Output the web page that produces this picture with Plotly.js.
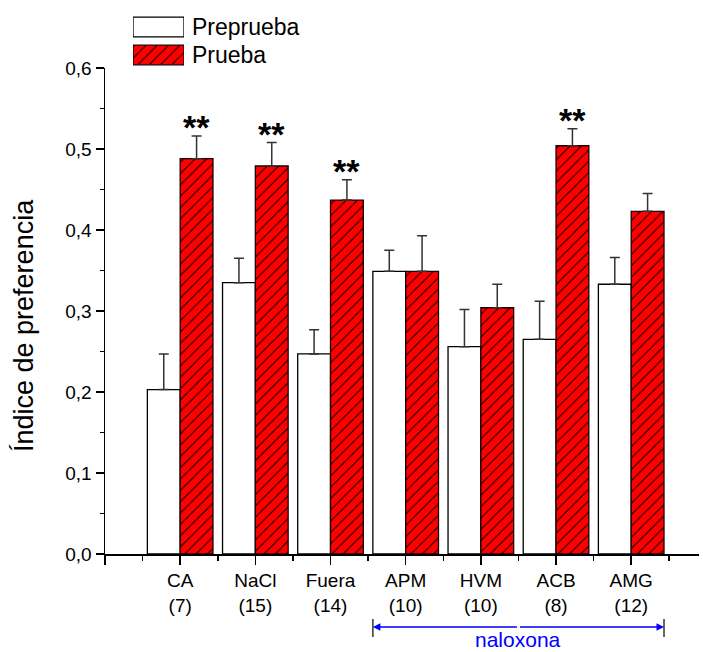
<!DOCTYPE html>
<html>
<head>
<meta charset="utf-8">
<script src="https://cdn.plot.ly/plotly-3.0.1.min.js"></script>
<style>html,body{margin:0;padding:0;background:#fff;}#chart{width:703px;height:652px;}</style>
</head>
<body>
<div id="chart"></div>
<script>
const categories = ['CA', 'NaCl', 'Fuera', 'APM', 'HVM', 'ACB', 'AMG'];
const counts = ['(7)', '(15)', '(14)', '(10)', '(10)', '(8)', '(12)'];
const preprueba = [0.203, 0.335, 0.247, 0.349, 0.256, 0.265, 0.333];
const prepruebaErr = [0.044, 0.030, 0.030, 0.026, 0.046, 0.047, 0.033];
const prueba = [0.488, 0.479, 0.437, 0.349, 0.304, 0.504, 0.423];
const pruebaErr = [0.028, 0.029, 0.025, 0.044, 0.029, 0.021, 0.022];
const signif = ['**', '**', '**', '', '', '**', ''];
const seriesNames = ['Preprueba', 'Prueba'];
const naloxonaGroup = ['APM', 'AMG'];
const yTicks = [0, 0.1, 0.2, 0.3, 0.4, 0.5, 0.6];

const FONT = 'Arial, "Liberation Sans", sans-serif';
const xIdx = categories.map((c, i) => i);
const BARGAP = 0.127;
const halfW = (1 - BARGAP) / 2;

const redPattern = {shape: '/', fgcolor: '#000000', bgcolor: '#ff0000', fillmode: 'replace', size: 8, solidity: 0.12};

const traces = [
  {
    type: 'bar', name: seriesNames[0], x: xIdx, y: preprueba,
    marker: {color: '#ffffff', line: {color: '#000', width: 1.3}},
    error_y: {type: 'data', array: prepruebaErr, arrayminus: preprueba.map(() => 0), symmetric: false,
              color: '#333', thickness: 1.5, width: 5},
    showlegend: false, hoverinfo: 'skip'
  },
  {
    type: 'bar', name: seriesNames[1], x: xIdx, y: prueba,
    marker: {color: '#ff0000', line: {color: '#1a0000', width: 1.3}, pattern: redPattern},
    error_y: {type: 'data', array: pruebaErr, arrayminus: prueba.map(() => 0), symmetric: false,
              color: '#333', thickness: 1.5, width: 5},
    showlegend: false, hoverinfo: 'skip'
  },
  // legend swatches (helper axes)
  {
    type: 'bar', orientation: 'h', x: [1], y: [1.5], base: 0, width: 0.7, offset: -0.35,
    xaxis: 'x2', yaxis: 'y2', name: seriesNames[0],
    marker: {color: '#ffffff', line: {color: '#000', width: 1.3}},
    showlegend: false, hoverinfo: 'skip'
  },
  {
    type: 'bar', orientation: 'h', x: [1], y: [0.5], base: 0, width: 0.7, offset: -0.35,
    xaxis: 'x2', yaxis: 'y2', name: seriesNames[1],
    marker: {color: '#ff0000', line: {color: '#1a0000', width: 1.3}, pattern: redPattern},
    showlegend: false, hoverinfo: 'skip'
  }
];

const annotations = [];
// significance stars
categories.forEach((c, i) => {
  if (signif[i]) {
    annotations.push({
      x: i + halfW / 2, y: prueba[i] + pruebaErr[i], xref: 'x', yref: 'y',
      text: '<b>' + signif[i] + '</b>', showarrow: false, yanchor: 'bottom', xanchor: 'center',
      yshift: -12, font: {family: FONT, size: 34, color: '#000'}
    });
  }
});
// legend labels
annotations.push({xref: 'paper', yref: 'paper', x: (190 - 105) / 594, y: (554 - 27) / 544,
  xanchor: 'left', yanchor: 'middle', text: seriesNames[0], showarrow: false,
  font: {family: FONT, size: 23, color: '#000'}});
annotations.push({xref: 'paper', yref: 'paper', x: (190 - 105) / 594, y: (554 - 55) / 544,
  xanchor: 'left', yanchor: 'middle', text: seriesNames[1], showarrow: false,
  font: {family: FONT, size: 23, color: '#000'}});
// y title
annotations.push({xref: 'paper', yref: 'paper', x: (24 - 105) / 594, y: (554 - 326) / 544,
  xanchor: 'center', yanchor: 'middle', textangle: -90, text: 'Índice de preferencia',
  showarrow: false, font: {family: FONT, size: 27, color: '#000'}});

// naloxona bracket
const nx0 = categories.indexOf(naloxonaGroup[0]) - halfW;
const nx1 = categories.indexOf(naloxonaGroup[1]) + halfW;
const arrowY = (554 - 627) / 544;
const pxPerUnit = 594 / 7.902;
const halfSpanPx = (nx1 - nx0) / 2 * pxPerUnit;
annotations.push({xref: 'x', yref: 'paper', x: nx0, y: arrowY, ax: halfSpanPx, ay: 0,
  showarrow: true, arrowhead: 2, arrowsize: 1, arrowwidth: 1.5, arrowcolor: '#0000ff', text: ''});
annotations.push({xref: 'x', yref: 'paper', x: nx1, y: arrowY, ax: -halfSpanPx, ay: 0,
  showarrow: true, arrowhead: 2, arrowsize: 1, arrowwidth: 1.5, arrowcolor: '#0000ff', text: ''});
annotations.push({xref: 'x', yref: 'paper', x: (nx0 + nx1) / 2, y: (554 - 639) / 544,
  text: 'naloxona', showarrow: false, xanchor: 'center', yanchor: 'middle',
  font: {family: FONT, size: 21, color: '#0000ff'}});

const shapes = [nx0, nx1].map(v => ({
  type: 'line', xref: 'x', yref: 'paper', x0: v, x1: v,
  y0: (554 - 619) / 544, y1: (554 - 637) / 544, line: {color: '#333', width: 1.5}
}));

const layout = {
  width: 703, height: 652,
  margin: {l: 105, r: 4, t: 10, b: 98, pad: 0},
  paper_bgcolor: '#fff', plot_bgcolor: '#fff',
  separators: ',.',
  barmode: 'group', bargap: BARGAP, bargroupgap: 0,
  font: {family: FONT, size: 19, color: '#000'},
  showlegend: false,
  xaxis: {
    range: [-1, 6.902], domain: [0, 1], showgrid: false, zeroline: false,
    showline: true, linecolor: '#000', linewidth: 1.5,
    tickmode: 'array', tickvals: [-1].concat(xIdx),
    ticktext: [''].concat(categories.map((c, i) => c + '<br>' + counts[i])),
    ticks: 'outside', ticklen: 9, tickwidth: 1.5, tickcolor: '#000',
    minor: {tickmode: 'linear', tick0: -0.5, dtick: 1, ticks: 'outside', ticklen: 5, tickwidth: 1.5, tickcolor: '#000'},
    tickfont: {family: FONT, size: 19, color: '#000'}, fixedrange: true
  },
  yaxis: {
    range: [0, 0.6], domain: [0, 486 / 544], showgrid: false, zeroline: false,
    showline: true, linecolor: '#000', linewidth: 1.5,
    tickmode: 'array', tickvals: yTicks, tickformat: '.1f',
    ticks: 'outside', ticklen: 8, tickwidth: 1.5, tickcolor: '#000',
    minor: {tickmode: 'linear', tick0: 0.05, dtick: 0.1, ticks: 'outside', ticklen: 4, tickwidth: 1.5, tickcolor: '#000'},
    tickfont: {family: FONT, size: 19, color: '#000'}, fixedrange: true
  },
  xaxis2: {domain: [(133 - 105) / 594, (184 - 105) / 594], range: [0, 1], visible: false, anchor: 'y2', fixedrange: true},
  yaxis2: {domain: [(554 - 69) / 544, (554 - 13) / 544], range: [0, 2], visible: false, anchor: 'x2', fixedrange: true},
  annotations: annotations,
  shapes: shapes
};

Plotly.newPlot('chart', traces, layout, {displayModeBar: false, staticPlot: true});
</script>
</body>
</html>
